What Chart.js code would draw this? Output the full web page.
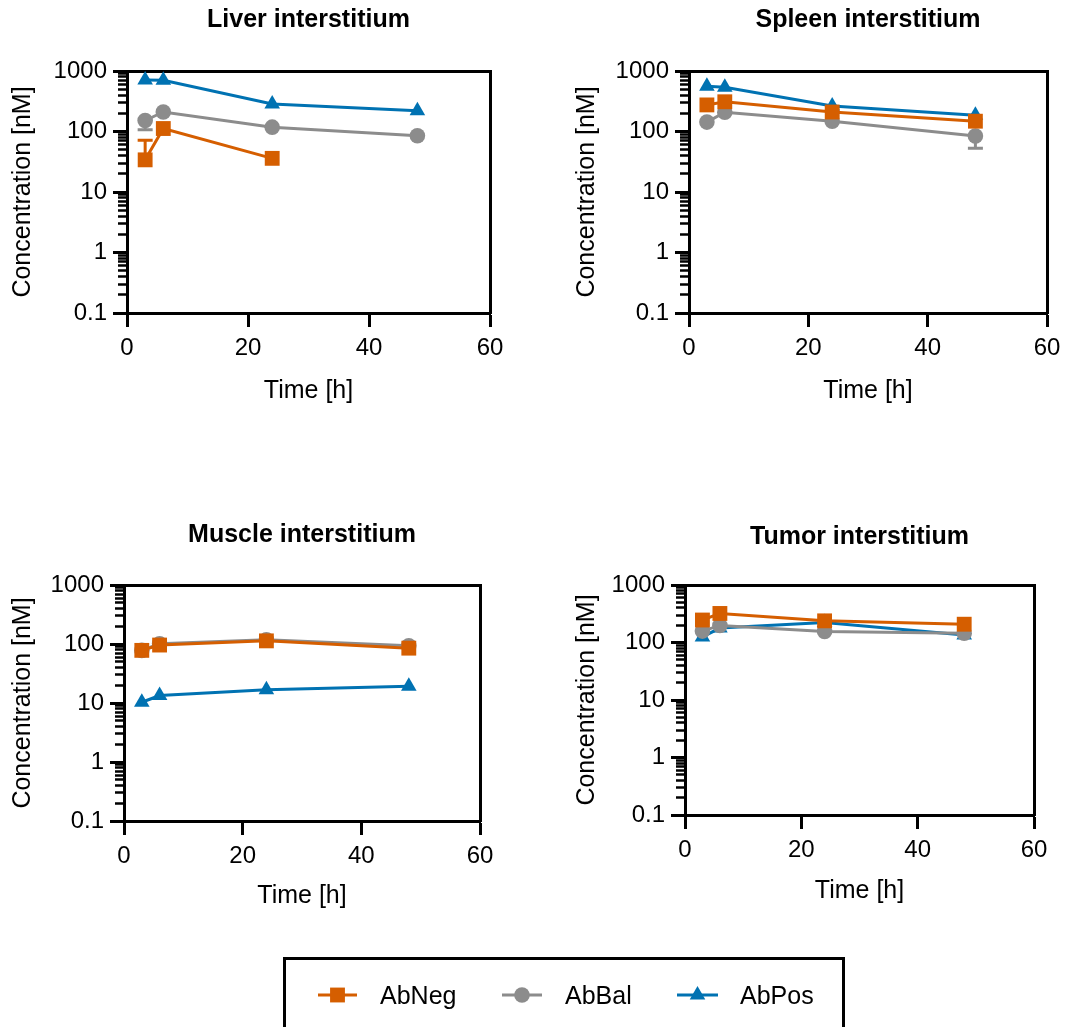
<!DOCTYPE html>
<html>
<head>
<meta charset="utf-8">
<script src="https://cdn.jsdelivr.net/npm/chart.js@4.4.0/dist/chart.umd.min.js"></script>
<style>
  body { margin: 0; width: 1073px; height: 1027px; overflow: hidden; background: #fff; position: relative;
         font-family: "Liberation Sans", Arial, sans-serif; }
  canvas { position: absolute; }
  #legend { position: absolute; left: 283px; top: 957px; width: 556px; height: 90px; border: 3px solid #000; }
  #legend span { position: absolute; top: 20px; font-size: 25px; line-height: 30px; color: #000; }
</style>
</head>
<body>
<canvas id="liver" width="530" height="420" style="left:0px;top:0px"></canvas>
<canvas id="spleen" width="533" height="420" style="left:540px;top:0px"></canvas>
<canvas id="muscle" width="520" height="425" style="left:0px;top:500px"></canvas>
<canvas id="tumor" width="513" height="420" style="left:560px;top:500px"></canvas>
<div id="legend">
  <canvas id="legendMarks" width="556" height="70" style="left:0;top:0"></canvas>
  <span style="left:94px">AbNeg</span>
  <span style="left:279px">AbBal</span>
  <span style="left:454px">AbPos</span>
</div>
<script>
// time points (h) and axis ticks
const timeH = [3, 6, 24, 48];
const xTicks = [0, 20, 40, 60];
const yTicks = [0.1, 1, 10, 100, 1000];
const seriesNames = ['AbNeg', 'AbBal', 'AbPos'];
const panelTitles = ['Liver interstitium', 'Spleen interstitium', 'Muscle interstitium', 'Tumor interstitium'];

// concentrations [nM] at timeH
const liverNeg = [34, 112, 36, null];
const liverBal = [152, 210, 118, 85];
const liverPos = [710, 700, 285, 220];
const spleenNeg = [275, 310, 210, 148];
const spleenBal = [143, 208, 148, 84];
const spleenPos = [560, 540, 263, 185];
const muscleNeg = [78, 96, 113, 85];
const muscleBal = [78, 101, 118, 93];
const musclePos = [10.3, 13.4, 16.7, 19.2];
const tumorNeg = [246, 320, 238, 208];
const tumorBal = [158, 198, 155, 145];
const tumorPos = [125, 178, 222, 135];

// visible error bar ends (others hidden behind the markers)
const liverNegErr = [72, null, null, null];
const liverBalErr = [107, null, null, null];
const spleenBalErr = [null, null, null, 53];

// minor ticks for the log axis
const minorTicks = [];
[0.1, 1, 10, 100].forEach(d => { for (let k = 2; k <= 9; k++) minorTicks.push(d * k); });

const colors = ['#D55E00', '#8C8C8C', '#0072B2'];
const shapes = ['rect', 'circle', 'triangle'];
const radii = [10.5, 7.8, 9];
const FONT = '"Liberation Sans", Arial, sans-serif';

Chart.defaults.color = '#000';
Chart.defaults.font.family = FONT;

const errorBars = {
  id: 'errorBars',
  beforeDatasetsDraw(chart) {
    const ctx = chart.ctx;
    const x = chart.scales.x, y = chart.scales.y;
    chart.data.datasets.forEach(ds => {
      if (!ds.errEnds) return;
      ctx.save();
      ctx.strokeStyle = ds.borderColor;
      ctx.lineWidth = 3;
      ds.errEnds.forEach((end, j) => {
        if (end == null || ds.data[j].y == null) return;
        const px = x.getPixelForValue(timeH[j]);
        const p0 = y.getPixelForValue(ds.data[j].y);
        const p1 = y.getPixelForValue(end);
        ctx.beginPath();
        ctx.moveTo(px, p0); ctx.lineTo(px, p1);
        ctx.moveTo(px - 7.5, p1); ctx.lineTo(px + 7.5, p1);
        ctx.stroke();
      });
      ctx.restore();
    });
  }
};

const panels = [
  { id: 'liver', title: panelTitles[0], series: [liverNeg, liverBal, liverPos], errs: [liverNegErr, liverBalErr, null],
    w: 530, h: 420, area: { left: 127, right: 490, top: 71, bottom: 313 }, padL: 0, titleY: 20 },
  { id: 'spleen', title: panelTitles[1], series: [spleenNeg, spleenBal, spleenPos], errs: [null, spleenBalErr, null],
    w: 533, h: 420, area: { left: 149, right: 507, top: 71, bottom: 313 }, padL: 24, titleY: 20 },
  { id: 'muscle', title: panelTitles[2], series: [muscleNeg, muscleBal, musclePos], errs: [null, null, null],
    w: 520, h: 425, area: { left: 124, right: 480, top: 85, bottom: 321 }, padL: 0, titleY: 35 },
  { id: 'tumor', title: panelTitles[3], series: [tumorNeg, tumorBal, tumorPos], errs: [null, null, null],
    w: 513, h: 420, area: { left: 125, right: 474, top: 85, bottom: 315 }, padL: 4, titleY: 37 }
];

panels.forEach(p => {
  const datasets = p.series.map((vals, i) => ({
    label: seriesNames[i],
    data: timeH.map((t, j) => ({ x: t, y: vals[j] })),
    errEnds: p.errs[i],
    borderColor: colors[i],
    backgroundColor: colors[i],
    borderWidth: 3,
    pointStyle: shapes[i],
    pointRadius: radii[i],
    pointBorderWidth: 0,
    pointBackgroundColor: colors[i],
    tension: 0,
    clip: false
  }));

  new Chart(document.getElementById(p.id), {
    type: 'line',
    data: { datasets },
    plugins: [errorBars],
    options: {
      responsive: false,
      animation: false,
      events: [],
      layout: { padding: { left: p.padL, right: p.w - p.area.right, top: 0, bottom: 0 } },
      plugins: {
        legend: { display: false },
        tooltip: { enabled: false },
        title: {
          display: true,
          text: p.title,
          fullSize: false,
          color: '#000',
          font: { size: 25, weight: 'bold', family: FONT, lineHeight: 1.2 },
          padding: { top: p.titleY - 15, bottom: p.area.top - p.titleY - 15 }
        }
      },
      scales: {
        x: {
          type: 'linear', position: 'bottom', min: 0, max: 60,
          afterBuildTicks: s => { s.ticks = xTicks.map(v => ({ value: v })); },
          afterFit: s => { s.height = p.h - p.area.bottom; },
          border: { color: '#000', width: 3 },
          grid: { drawOnChartArea: false, tickLength: 14, tickWidth: 3, tickColor: '#000' },
          ticks: { font: { size: 24 }, padding: 7, maxRotation: 0 },
          title: { display: true, text: 'Time [h]', font: { size: 25 }, padding: { top: 0, bottom: 14 } }
        },
        y: {
          type: 'logarithmic', position: 'left', min: 0.1, max: 1000, weight: 1,
          afterBuildTicks: s => { s.ticks = yTicks.map(v => ({ value: v })); },
          afterFit: s => { s.width = p.area.left - p.padL; },
          border: { color: '#000', width: 3 },
          grid: { drawOnChartArea: false, tickLength: 14, tickWidth: 3, tickColor: '#000' },
          ticks: { font: { size: 24 }, padding: 6, autoSkip: false, callback: v => String(v) },
          title: { display: true, text: 'Concentration [nM]', font: { size: 25 }, padding: { top: 8, bottom: 0 } }
        },
        yMinor: {
          type: 'logarithmic', position: 'left', min: 0.1, max: 1000, weight: 0,
          afterBuildTicks: s => { s.ticks = minorTicks.map(v => ({ value: v })); },
          afterFit: s => { s.width = 0; },
          border: { display: false },
          grid: { drawOnChartArea: false, tickLength: 9, tickWidth: 2.5, tickColor: '#000' },
          ticks: { display: false }
        },
        xTop: {
          type: 'linear', position: 'top', min: 0, max: 60,
          afterFit: s => { s.height = 0; },
          border: { color: '#000', width: 3 },
          grid: { drawOnChartArea: false, drawTicks: false },
          ticks: { display: false }
        },
        yRight: {
          type: 'linear', position: 'right', min: 0, max: 1,
          afterFit: s => { s.width = 0; },
          border: { color: '#000', width: 3 },
          grid: { drawOnChartArea: false, drawTicks: false },
          ticks: { display: false }
        }
      }
    }
  });
});

// legend symbols: line + marker for each series
(function () {
  const ctx = document.getElementById('legendMarks').getContext('2d');
  const lines = [[32, 71], [216, 256], [391, 432]];
  const cy = 35;
  lines.forEach((l, i) => {
    ctx.strokeStyle = colors[i];
    ctx.lineWidth = 3;
    ctx.beginPath(); ctx.moveTo(l[0], cy); ctx.lineTo(l[1], cy); ctx.stroke();
    ctx.fillStyle = colors[i];
    ctx.strokeStyle = colors[i];
    const cx = (l[0] + l[1]) / 2;
    Chart.helpers.drawPoint(ctx, { pointStyle: shapes[i], radius: radii[i], borderWidth: 0, rotation: 0 }, cx, cy);
  });
})();
</script>
</body>
</html>
